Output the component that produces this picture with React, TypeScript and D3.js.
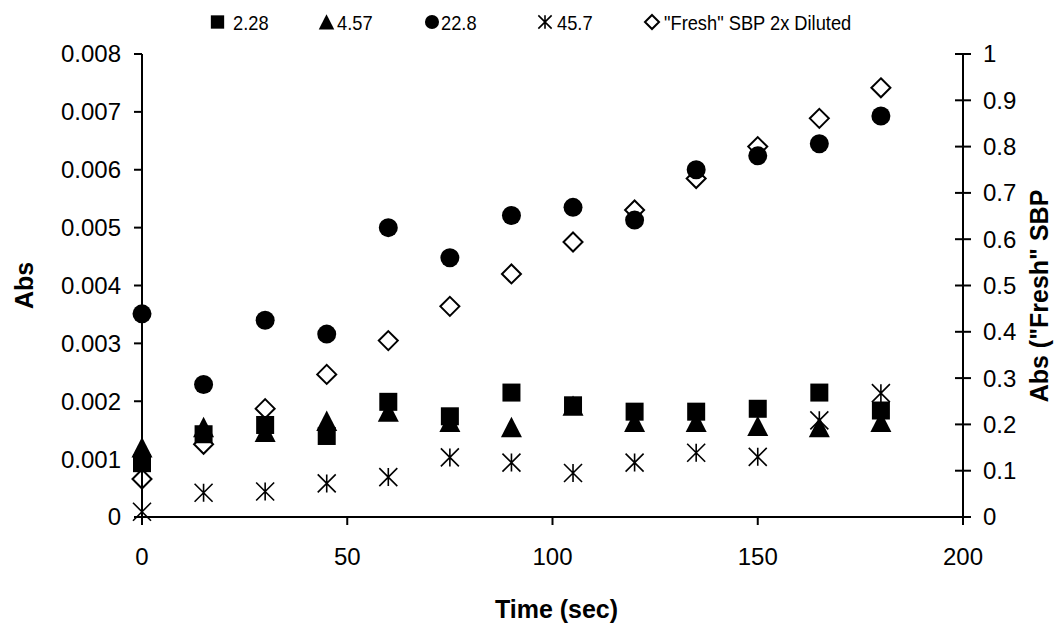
import React from "react";
import * as d3 from "d3";

// Sampling times (sec)
const times = [0, 15, 30, 45, 60, 75, 90, 105, 120, 135, 150, 165, 180];

// Absorbance series on the left axis
const s228 = [0.00093, 0.00143, 0.00159, 0.0014, 0.00199, 0.00174, 0.00215, 0.00193, 0.00182, 0.00182, 0.00187, 0.00215, 0.00184];
const s457 = [0.0012, 0.00155, 0.00147, 0.00166, 0.00182, 0.00164, 0.00155, 0.00192, 0.00164, 0.00164, 0.00157, 0.00155, 0.00164];
const s228x10 = [0.00351, 0.00229, 0.0034, 0.00316, 0.005, 0.00448, 0.00521, 0.00535, 0.00513, 0.006, 0.00624, 0.00645, 0.00693];
const s457x10 = [0.00009, 0.00042, 0.00044, 0.00058, 0.00069, 0.00103, 0.00094, 0.00076, 0.00094, 0.00111, 0.00104, 0.00167, 0.00214];

// "Fresh" SBP on the right axis
const fresh = [0.082, 0.157, 0.234, 0.308, 0.381, 0.455, 0.525, 0.594, 0.663, 0.731, 0.8, 0.861, 0.927];

const xTicks = [0, 50, 100, 150, 200];
const yLeftTicks = [0, 0.001, 0.002, 0.003, 0.004, 0.005, 0.006, 0.007, 0.008];
const yRightTicks = [0, 0.1, 0.2, 0.3, 0.4, 0.5, 0.6, 0.7, 0.8, 0.9, 1];

const legendLabels = ["2.28", "4.57", "22.8", "45.7", "\"Fresh\" SBP 2x Diluted"];
const legendKinds = ["square", "triangle", "circle", "star", "diamond"];

const FONT = "'Liberation Sans', Arial, sans-serif";

const W = 1054;
const H = 628;
const left = 142;
const right = 963;
const top = 54;
const bottom = 517;

const x = d3.scaleLinear().domain([0, 200]).range([left, right]);
const yL = d3.scaleLinear().domain([0, 0.008]).range([bottom, top]);
const yR = d3.scaleLinear().domain([0, 1]).range([bottom, top]);

function Marker({ kind, cx, cy, s = 1 }: { kind: string; cx: number; cy: number; s?: number }) {
  if (kind === "square") {
    const h = 9 * s;
    return <rect x={cx - h} y={cy - h} width={2 * h} height={2 * h} fill="#000" />;
  }
  if (kind === "triangle") {
    const h = 10.5 * s;
    const p = d3.path();
    p.moveTo(cx, cy - h);
    p.lineTo(cx + h, cy + h * 0.95);
    p.lineTo(cx - h, cy + h * 0.95);
    p.closePath();
    return <path d={p.toString()} fill="#000" />;
  }
  if (kind === "circle") {
    return <circle cx={cx} cy={cy} r={9.5 * s} fill="#000" />;
  }
  if (kind === "star") {
    const h = 9 * s;
    const d = `M${cx - h},${cy - h}L${cx + h},${cy + h}M${cx - h},${cy + h}L${cx + h},${cy - h}M${cx},${cy - h}L${cx},${cy + h}`;
    return <path d={d} stroke="#000" strokeWidth={1.6} fill="none" />;
  }
  const h = 9.5 * s;
  const d = `M${cx},${cy - h}L${cx + h},${cy}L${cx},${cy + h}L${cx - h},${cy}Z`;
  return <path d={d} stroke="#000" strokeWidth={2} fill="#fff" />;
}

export default function App() {
  const leftSeries = [
    { kind: "square", vals: s228 },
    { kind: "triangle", vals: s457 },
    { kind: "circle", vals: s228x10 },
    { kind: "star", vals: s457x10 },
  ];
  const legendPos = [
    [217.5, 233],
    [326.5, 337],
    [432, 441],
    [545, 557],
    [652, 664],
  ];
  return (
    <svg width={W} height={H} style={{ display: "block", position: "absolute", left: 0, top: 0 }} fontFamily={FONT}>
      <rect width={W} height={H} fill="#fff" />

      {/* fresh SBP (secondary axis) drawn underneath */}
      {fresh.map((v, i) => (
        <Marker key={"f" + i} kind="diamond" cx={x(times[i])} cy={yR(v)} />
      ))}
      {leftSeries.map((s) =>
        s.vals.map((v, i) => <Marker key={s.kind + i} kind={s.kind} cx={x(times[i])} cy={yL(v)} />)
      )}

      {/* axes */}
      <g stroke="#000" strokeWidth={2}>
        <line x1={left} x2={left} y1={top} y2={bottom} />
        <line x1={right} x2={right} y1={top} y2={bottom} />
        <line x1={left} x2={right} y1={bottom} y2={bottom} />
        {yLeftTicks.map((t) => (
          <line key={"lt" + t} x1={left - 8} x2={left} y1={yL(t)} y2={yL(t)} />
        ))}
        {yRightTicks.map((t) => (
          <line key={"rt" + t} x1={right - 8} x2={right + 8} y1={yR(t)} y2={yR(t)} />
        ))}
        {xTicks.map((t) => (
          <line key={"xt" + t} x1={x(t)} x2={x(t)} y1={bottom} y2={bottom + 8} />
        ))}
      </g>

      <g fontSize={24} fill="#000">
        {yLeftTicks.map((t) => (
          <text key={"ll" + t} x={left - 21} y={yL(t)} dy="0.35em" textAnchor="end">
            {t === 0 ? "0" : d3.format(".3f")(t)}
          </text>
        ))}
        {yRightTicks.map((t) => (
          <text key={"rl" + t} x={right + 20} y={yR(t)} dy="0.35em" textAnchor="start">
            {d3.format("~g")(t)}
          </text>
        ))}
        {xTicks.map((t) => (
          <text key={"xl" + t} x={x(t)} y={565} textAnchor="middle">
            {t}
          </text>
        ))}
      </g>

      <g fontSize={25} fontWeight="bold" fill="#000">
        <text x={(left + right) / 2 + 4} y={618} textAnchor="middle">Time (sec)</text>
        <text transform={`translate(33,${(top + bottom) / 2}) rotate(-90)`} textAnchor="middle">Abs</text>
        <text transform={`translate(1048,296) rotate(-90)`} textAnchor="middle">Abs ("Fresh" SBP</text>
      </g>

      <g fontSize={21} fill="#000">
        {legendLabels.map((lab, i) => (
          <g key={"lg" + i}>
            <Marker kind={legendKinds[i]} cx={legendPos[i][0]} cy={22} s={0.74} />
            <text transform={`translate(${legendPos[i][1]},29.5) scale(0.87,1)`}>{lab}</text>
          </g>
        ))}
      </g>
    </svg>
  );
}
